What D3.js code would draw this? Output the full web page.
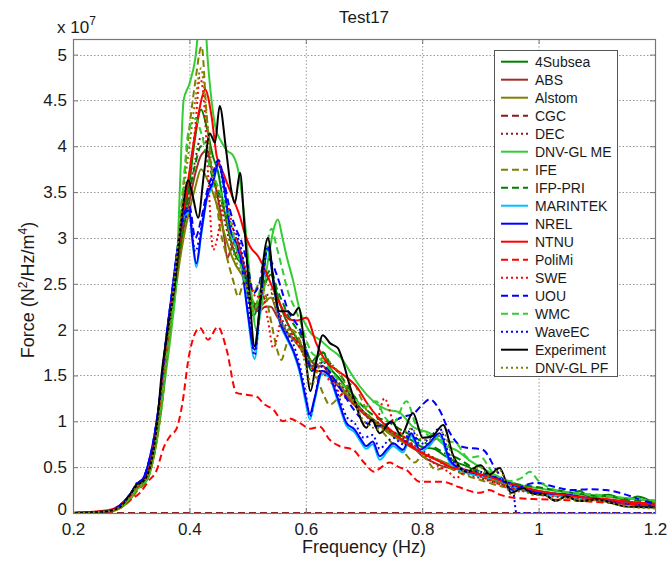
<!DOCTYPE html>
<html>
<head>
<meta charset="utf-8">
<script src="https://cdn.jsdelivr.net/npm/d3@7"></script>
<style>
  body { margin: 0; background: #fff; }
  svg { display: block; font-family: "Liberation Sans", Arial, sans-serif; }
</style>
</head>
<body>
<div id="chart"></div>
<script>
// Plot area (pixels)
const W = 670, H = 562;
const plot = { left: 73, right: 655, top: 39, bottom: 513 };

// Force values are in units of 1e7 N^2/Hz/m^4
const xTicks = [0.2, 0.4, 0.6, 0.8, 1.0, 1.2];
const yTicks = [0, 0.5, 1, 1.5, 2, 2.5, 3, 3.5, 4, 4.5, 5];

const names = ["4Subsea", "ABS", "Alstom", "CGC", "DEC", "DNV-GL ME", "IFE", "IFP-PRI", "MARINTEK",
    "NREL", "NTNU", "PoliMi", "SWE", "UOU", "WMC", "WaveEC", "Experiment", "DNV-GL PF"];

// [frequency (Hz), force (x1e7)]
const s4Subsea = [[0.2,0],[0.26,0.02],[0.28,0.07],[0.30,0.2],[0.31,0.3],[0.32,0.33],[0.33,0.42],[0.34,0.7],[0.35,1.1],[0.36,1.7],[0.37,2.2],[0.38,2.7],[0.39,3.2],[0.40,3.6],[0.41,4.1],[0.42,4.4],[0.43,4.2],[0.44,3.9],[0.45,3.7],[0.46,3.3],[0.47,3.0],[0.48,2.8],[0.49,2.7],[0.50,2.4],[0.51,2.15],[0.52,2.3],[0.53,2.5],[0.54,2.6],[0.55,2.4],[0.56,2.2],[0.57,2.05],[0.58,1.95],[0.59,1.85],[0.60,1.7],[0.61,1.55],[0.62,1.7],[0.63,1.75],[0.64,1.6],[0.66,1.45],[0.68,1.25],[0.70,1.1],[0.72,1.0],[0.74,0.92],[0.76,0.85],[0.78,0.8],[0.80,0.72],[0.82,0.7],[0.84,0.62],[0.86,0.55],[0.88,0.5],[0.90,0.42],[0.92,0.38],[0.94,0.33],[0.96,0.3],[0.98,0.26],[1.0,0.24],[1.02,0.22],[1.05,0.2],[1.07,0.24],[1.09,0.17],[1.12,0.2],[1.15,0.14],[1.17,0.18],[1.2,0.1]];
const sABS = [[0.2,0],[0.26,0.02],[0.28,0.06],[0.30,0.18],[0.31,0.28],[0.32,0.32],[0.33,0.42],[0.34,0.7],[0.35,1.1],[0.36,1.65],[0.37,2.15],[0.38,2.65],[0.39,3.1],[0.40,3.4],[0.41,3.7],[0.42,3.9],[0.43,3.95],[0.44,3.7],[0.45,3.4],[0.46,3.0],[0.465,2.78],[0.47,2.85],[0.48,3.0],[0.49,2.8],[0.50,2.5],[0.51,2.25],[0.52,2.2],[0.53,2.25],[0.54,2.25],[0.55,2.15],[0.56,2.05],[0.57,1.95],[0.58,1.9],[0.59,1.85],[0.60,1.75],[0.61,1.65],[0.62,1.6],[0.63,1.6],[0.64,1.5],[0.66,1.35],[0.68,1.2],[0.70,1.08],[0.72,0.98],[0.74,0.9],[0.76,0.82],[0.78,0.75],[0.80,0.62],[0.82,0.55],[0.84,0.5],[0.86,0.48],[0.88,0.44],[0.90,0.4],[0.93,0.34],[0.96,0.28],[1.0,0.22],[1.04,0.19],[1.08,0.16],[1.12,0.14],[1.16,0.11],[1.2,0.09]];
const sAlstom = [[0.2,0],[0.26,0.01],[0.28,0.05],[0.30,0.16],[0.31,0.26],[0.32,0.31],[0.33,0.4],[0.34,0.65],[0.35,1.05],[0.36,1.6],[0.37,2.1],[0.38,2.6],[0.39,3.0],[0.40,3.3],[0.41,3.55],[0.42,3.75],[0.43,3.65],[0.44,3.5],[0.45,3.3],[0.46,3.05],[0.47,2.85],[0.48,2.7],[0.49,2.6],[0.50,2.45],[0.51,2.3],[0.52,2.25],[0.53,2.3],[0.54,2.35],[0.55,2.2],[0.56,2.05],[0.57,1.95],[0.58,1.88],[0.59,1.8],[0.60,1.7],[0.61,1.6],[0.62,1.55],[0.63,1.55],[0.64,1.5],[0.66,1.38],[0.68,1.22],[0.70,1.1],[0.72,1.0],[0.74,0.88],[0.76,0.8],[0.78,0.72],[0.80,0.65],[0.82,0.6],[0.84,0.55],[0.86,0.5],[0.88,0.45],[0.90,0.4],[0.93,0.34],[0.96,0.29],[1.0,0.24],[1.04,0.2],[1.08,0.16],[1.12,0.13],[1.16,0.1],[1.2,0.08]];
const sCGC = [[0.2,0],[0.6,0],[1.2,0]];
const sDEC = [[0.2,0],[0.26,0.02],[0.28,0.06],[0.30,0.18],[0.31,0.27],[0.32,0.32],[0.33,0.43],[0.34,0.72],[0.35,1.15],[0.36,1.7],[0.37,2.2],[0.38,2.7],[0.39,3.15],[0.40,3.5],[0.41,3.85],[0.42,4.1],[0.43,4.0],[0.44,3.7],[0.45,3.45],[0.46,3.2],[0.47,2.95],[0.48,2.85],[0.49,2.75],[0.50,2.5],[0.51,2.3],[0.52,2.25],[0.53,2.35],[0.54,2.4],[0.55,2.2],[0.56,2.1],[0.57,2.0],[0.58,1.9],[0.59,1.82],[0.60,1.7],[0.61,1.6],[0.62,1.62],[0.63,1.6],[0.64,1.52],[0.66,1.4],[0.68,1.25],[0.70,1.1],[0.72,1.0],[0.74,0.92],[0.76,0.85],[0.78,0.76],[0.80,0.68],[0.82,0.6],[0.84,0.52],[0.86,0.46],[0.88,0.42],[0.90,0.38],[0.93,0.32],[0.96,0.27],[1.0,0.22],[1.04,0.18],[1.08,0.15],[1.12,0.13],[1.16,0.1],[1.2,0.08]];
const sDNVGLME = [[0.2,0],[0.26,0.02],[0.28,0.06],[0.30,0.17],[0.31,0.26],[0.32,0.3],[0.33,0.4],[0.34,0.65],[0.35,1.05],[0.36,1.55],[0.37,2.05],[0.378,2.6],[0.384,3.6],[0.39,4.5],[0.40,4.68],[0.41,4.95],[0.418,5.4],[0.425,5.5],[0.432,4.9],[0.438,4.5],[0.445,4.2],[0.455,4.05],[0.465,3.95],[0.475,3.9],[0.485,3.7],[0.495,3.2],[0.505,2.5],[0.515,2.0],[0.525,2.3],[0.535,2.75],[0.545,3.1],[0.552,3.2],[0.56,3.0],[0.567,2.8],[0.578,2.54],[0.59,2.2],[0.60,2.05],[0.61,1.95],[0.624,1.89],[0.64,1.8],[0.661,1.69],[0.68,1.5],[0.693,1.38],[0.716,1.22],[0.738,1.13],[0.76,1.1],[0.784,0.94],[0.813,0.87],[0.841,0.73],[0.86,0.68],[0.88,0.58],[0.90,0.5],[0.93,0.4],[0.96,0.32],[0.99,0.28],[1.02,0.25],[1.05,0.22],[1.08,0.2],[1.11,0.18],[1.14,0.17],[1.17,0.15],[1.2,0.12]];
const sIFE = [[0.2,0],[0.26,0.01],[0.28,0.05],[0.30,0.15],[0.31,0.24],[0.32,0.3],[0.33,0.4],[0.34,0.65],[0.35,1.05],[0.36,1.6],[0.37,2.2],[0.38,2.9],[0.39,3.6],[0.40,4.2],[0.41,4.7],[0.421,5.09],[0.429,4.4],[0.438,3.74],[0.444,3.52],[0.452,3.13],[0.464,2.8],[0.475,2.54],[0.484,2.36],[0.492,2.5],[0.50,2.6],[0.51,2.4],[0.52,2.5],[0.53,2.4],[0.54,2.1],[0.55,1.8],[0.558,1.67],[0.565,1.8],[0.575,2.0],[0.585,1.95],[0.595,1.8],[0.605,1.7],[0.615,1.55],[0.63,1.3],[0.641,1.18],[0.655,1.25],[0.67,1.35],[0.681,1.42],[0.695,1.25],[0.71,1.05],[0.73,0.9],[0.75,0.75],[0.77,0.65],[0.787,0.55],[0.80,0.62],[0.824,0.47],[0.84,0.5],[0.86,0.45],[0.88,0.4],[0.90,0.36],[0.93,0.3],[0.96,0.26],[1.0,0.22],[1.04,0.18],[1.08,0.15],[1.12,0.12],[1.16,0.1],[1.2,0.08]];
const sIFPPRI = [[0.2,0],[0.26,0.02],[0.28,0.07],[0.30,0.2],[0.31,0.3],[0.32,0.35],[0.33,0.45],[0.34,0.72],[0.35,1.12],[0.36,1.7],[0.37,2.2],[0.38,2.7],[0.39,3.15],[0.40,3.5],[0.41,3.8],[0.42,4.0],[0.43,3.9],[0.44,3.65],[0.45,3.5],[0.46,3.3],[0.47,3.1],[0.48,2.9],[0.49,2.75],[0.50,2.5],[0.51,2.25],[0.52,2.35],[0.53,2.55],[0.54,2.65],[0.55,2.45],[0.56,2.3],[0.57,2.15],[0.58,2.05],[0.59,1.95],[0.60,1.8],[0.61,1.65],[0.62,1.72],[0.63,1.75],[0.64,1.65],[0.66,1.5],[0.68,1.3],[0.70,1.15],[0.72,1.05],[0.74,1.0],[0.76,0.92],[0.78,0.85],[0.80,0.78],[0.82,0.72],[0.84,0.65],[0.86,0.6],[0.88,0.52],[0.90,0.45],[0.93,0.38],[0.96,0.32],[1.0,0.28],[1.04,0.24],[1.08,0.2],[1.12,0.18],[1.16,0.14],[1.2,0.12]];
const sMARINTEK = [[0.2,0],[0.26,0.02],[0.28,0.08],[0.30,0.22],[0.31,0.32],[0.32,0.36],[0.33,0.54],[0.34,0.84],[0.35,1.28],[0.36,1.88],[0.37,2.38],[0.38,2.88],[0.39,3.22],[0.40,3.28],[0.405,2.98],[0.412,2.68],[0.42,3.02],[0.43,3.42],[0.44,3.58],[0.45,3.8],[0.46,3.52],[0.47,3.08],[0.48,2.92],[0.49,2.68],[0.50,2.18],[0.512,1.68],[0.522,2.28],[0.535,2.88],[0.545,2.48],[0.555,2.08],[0.565,1.93],[0.578,1.76],[0.59,1.52],[0.60,1.2],[0.607,1.02],[0.615,1.22],[0.628,1.52],[0.64,1.48],[0.655,1.22],[0.67,0.95],[0.684,0.88],[0.695,0.77],[0.704,0.7],[0.715,0.75],[0.727,0.58],[0.74,0.67],[0.75,0.73],[0.767,0.66],[0.781,0.84],[0.796,0.66],[0.81,0.72],[0.83,0.84],[0.847,0.55],[0.86,0.48],[0.88,0.43],[0.90,0.4],[0.93,0.36],[0.96,0.28],[1.0,0.2],[1.05,0.18],[1.1,0.14],[1.15,0.1],[1.2,0.07]];
const sNREL = [[0.2,0],[0.26,0.02],[0.28,0.08],[0.30,0.22],[0.31,0.32],[0.32,0.37],[0.33,0.55],[0.34,0.85],[0.35,1.3],[0.36,1.9],[0.37,2.4],[0.38,2.9],[0.39,3.25],[0.40,3.3],[0.405,3.0],[0.412,2.72],[0.42,3.05],[0.43,3.45],[0.44,3.6],[0.45,3.82],[0.46,3.55],[0.47,3.1],[0.48,2.95],[0.49,2.7],[0.50,2.2],[0.512,1.78],[0.522,2.3],[0.535,2.9],[0.545,2.5],[0.555,2.1],[0.565,1.95],[0.578,1.78],[0.59,1.55],[0.60,1.25],[0.607,1.08],[0.615,1.25],[0.628,1.55],[0.64,1.5],[0.655,1.25],[0.67,0.98],[0.684,0.91],[0.695,0.8],[0.704,0.73],[0.715,0.78],[0.727,0.62],[0.74,0.7],[0.75,0.76],[0.767,0.69],[0.781,0.87],[0.796,0.69],[0.81,0.75],[0.83,0.87],[0.847,0.58],[0.86,0.5],[0.88,0.45],[0.90,0.42],[0.93,0.38],[0.96,0.3],[1.0,0.22],[1.05,0.2],[1.1,0.15],[1.15,0.1],[1.2,0.08]];
const sNTNU = [[0.2,0],[0.26,0.03],[0.28,0.08],[0.30,0.2],[0.31,0.28],[0.32,0.33],[0.33,0.47],[0.34,0.8],[0.35,1.25],[0.36,1.85],[0.37,2.35],[0.38,2.85],[0.39,3.3],[0.398,3.63],[0.407,4.03],[0.417,4.4],[0.427,4.62],[0.438,4.33],[0.447,3.89],[0.458,3.71],[0.467,3.56],[0.477,3.4],[0.487,3.23],[0.495,3.05],[0.504,2.91],[0.518,2.8],[0.53,2.65],[0.544,2.44],[0.558,2.25],[0.572,2.11],[0.585,2.1],[0.601,2.13],[0.618,1.85],[0.635,1.65],[0.653,1.56],[0.67,1.48],[0.687,1.38],[0.705,1.2],[0.727,1.02],[0.75,0.88],[0.773,0.76],[0.801,0.65],[0.83,0.56],[0.85,0.5],[0.876,0.47],[0.90,0.42],[0.922,0.38],[0.95,0.32],[0.98,0.27],[1.0,0.24],[1.04,0.2],[1.08,0.17],[1.12,0.15],[1.16,0.12],[1.2,0.1]];
const sPoliMi = [[0.2,0],[0.26,0.01],[0.281,0.07],[0.30,0.15],[0.315,0.22],[0.33,0.35],[0.344,0.47],[0.355,0.7],[0.367,0.84],[0.378,0.92],[0.387,1.16],[0.40,1.74],[0.418,2.02],[0.432,1.89],[0.449,2.03],[0.464,1.78],[0.481,1.31],[0.498,1.29],[0.515,1.27],[0.53,1.18],[0.544,1.13],[0.561,1.0],[0.572,1.03],[0.59,0.98],[0.607,0.92],[0.624,0.94],[0.641,0.8],[0.658,0.73],[0.681,0.69],[0.70,0.55],[0.718,0.45],[0.73,0.5],[0.744,0.55],[0.76,0.5],[0.773,0.47],[0.796,0.34],[0.815,0.34],[0.836,0.34],[0.864,0.28],[0.899,0.22],[0.915,0.25],[0.933,0.2],[0.967,0.16],[1.0,0.15],[1.05,0.14],[1.1,0.12],[1.15,0.1],[1.2,0.08]];
const sSWE = [[0.2,0],[0.26,0.02],[0.28,0.07],[0.30,0.2],[0.31,0.3],[0.32,0.34],[0.33,0.45],[0.34,0.75],[0.35,1.2],[0.36,1.75],[0.37,2.25],[0.38,2.8],[0.39,3.3],[0.40,3.7],[0.41,4.2],[0.418,4.75],[0.425,4.5],[0.432,3.7],[0.441,2.87],[0.448,3.0],[0.455,3.25],[0.465,3.35],[0.475,3.1],[0.485,2.9],[0.495,2.7],[0.505,2.5],[0.515,2.35],[0.525,2.4],[0.535,2.1],[0.544,1.8],[0.552,1.95],[0.56,2.2],[0.57,2.05],[0.58,1.9],[0.59,1.8],[0.60,1.68],[0.61,1.58],[0.62,1.55],[0.63,1.52],[0.64,1.45],[0.66,1.3],[0.68,1.2],[0.70,1.08],[0.72,0.98],[0.735,1.25],[0.75,1.0],[0.77,0.82],[0.79,0.72],[0.81,0.6],[0.83,0.5],[0.845,0.45],[0.858,0.38],[0.875,0.45],[0.90,0.4],[0.93,0.32],[0.96,0.26],[1.0,0.2],[1.04,0.17],[1.08,0.15],[1.12,0.12],[1.16,0.1],[1.2,0.08]];
const sUOU = [[0.2,0],[0.26,0.02],[0.28,0.08],[0.30,0.22],[0.31,0.32],[0.32,0.37],[0.33,0.55],[0.34,0.85],[0.35,1.3],[0.36,1.9],[0.37,2.4],[0.38,2.9],[0.39,3.25],[0.40,3.35],[0.41,3.0],[0.42,3.2],[0.43,3.5],[0.44,3.7],[0.45,3.85],[0.46,3.6],[0.47,3.3],[0.48,3.1],[0.49,2.95],[0.50,2.7],[0.51,2.4],[0.52,2.5],[0.53,2.8],[0.54,2.75],[0.55,2.6],[0.56,2.4],[0.57,2.2],[0.58,2.1],[0.59,2.0],[0.60,1.8],[0.61,1.55],[0.62,1.6],[0.63,1.65],[0.64,1.55],[0.66,1.35],[0.68,1.15],[0.70,1.0],[0.72,0.95],[0.744,0.98],[0.767,1.05],[0.784,1.08],[0.80,1.18],[0.813,1.24],[0.83,1.12],[0.847,0.88],[0.87,0.72],[0.904,0.69],[0.927,0.47],[0.956,0.25],[0.975,0.3],[0.996,0.33],[1.03,0.28],[1.059,0.25],[1.09,0.26],[1.116,0.25],[1.15,0.2],[1.173,0.15],[1.2,0.1]];
const sWMC = [[0.2,0],[0.26,0.02],[0.28,0.06],[0.30,0.18],[0.31,0.27],[0.32,0.32],[0.33,0.42],[0.34,0.7],[0.35,1.1],[0.36,1.65],[0.37,2.2],[0.38,2.9],[0.39,3.6],[0.398,4.15],[0.41,4.3],[0.42,4.15],[0.43,3.9],[0.44,3.7],[0.45,3.55],[0.46,3.4],[0.47,3.2],[0.48,2.9],[0.49,2.65],[0.50,2.4],[0.51,2.2],[0.52,2.4],[0.53,2.8],[0.541,3.1],[0.55,2.9],[0.56,2.65],[0.57,2.4],[0.58,2.25],[0.59,2.1],[0.60,1.9],[0.61,1.75],[0.62,1.7],[0.63,1.65],[0.64,1.58],[0.66,1.42],[0.68,1.3],[0.70,1.15],[0.721,1.22],[0.735,1.05],[0.75,0.98],[0.773,1.22],[0.79,0.95],[0.81,0.85],[0.83,0.8],[0.858,0.76],[0.88,0.6],[0.899,0.62],[0.92,0.45],[0.95,0.35],[0.97,0.38],[0.985,0.45],[1.0,0.35],[1.03,0.25],[1.06,0.22],[1.1,0.2],[1.15,0.16],[1.2,0.14]];
const sWaveEC = [[0.2,0],[0.26,0.02],[0.28,0.08],[0.30,0.22],[0.31,0.33],[0.32,0.37],[0.33,0.55],[0.34,0.85],[0.35,1.3],[0.36,1.9],[0.37,2.4],[0.38,2.9],[0.39,3.2],[0.40,3.25],[0.41,2.85],[0.42,3.1],[0.43,3.45],[0.44,3.65],[0.45,3.8],[0.46,3.5],[0.47,3.15],[0.48,3.05],[0.49,2.85],[0.50,2.4],[0.512,1.72],[0.522,2.3],[0.535,2.9],[0.545,2.5],[0.555,2.15],[0.565,2.0],[0.578,1.85],[0.59,1.6],[0.60,1.3],[0.607,1.05],[0.615,1.25],[0.628,1.6],[0.64,1.55],[0.655,1.3],[0.67,1.05],[0.684,0.98],[0.70,0.82],[0.715,0.85],[0.727,0.7],[0.74,0.78],[0.75,0.82],[0.767,0.75],[0.781,0.92],[0.796,0.75],[0.81,0.8],[0.83,0.92],[0.847,0.62],[0.86,0.52],[0.88,0.46],[0.90,0.45],[0.93,0.38],[0.955,0.3],[0.962,0.0],[1.2,0.0]];
const sExperiment = [[0.20,0.00],[0.26,0.02],[0.28,0.06],[0.30,0.22],[0.31,0.31],[0.32,0.34],[0.33,0.45],[0.34,0.75],[0.345,1.0],[0.352,1.5],[0.363,2.0],[0.375,2.5],[0.388,3.3],[0.398,3.63],[0.406,3.45],[0.415,3.22],[0.425,3.7],[0.435,4.14],[0.444,4.04],[0.452,4.44],[0.463,3.96],[0.472,3.52],[0.478,3.38],[0.487,3.71],[0.495,3.09],[0.503,2.4],[0.512,1.82],[0.52,2.2],[0.528,2.8],[0.535,3.0],[0.545,2.5],[0.555,2.2],[0.568,2.2],[0.578,2.16],[0.588,2.24],[0.598,1.8],[0.608,1.33],[0.618,1.65],[0.629,1.94],[0.642,1.85],[0.655,1.80],[0.661,1.71],[0.675,1.4],[0.687,1.16],[0.704,0.93],[0.713,1.02],[0.727,0.87],[0.747,1.0],[0.764,0.85],[0.784,1.09],[0.801,0.82],[0.818,0.84],[0.836,0.96],[0.853,0.63],[0.876,0.45],[0.900,0.52],[0.916,0.42],[0.933,0.49],[0.953,0.22],[0.973,0.27],[0.99,0.21],[1.01,0.2],[1.03,0.13],[1.047,0.18],[1.07,0.13],[1.10,0.15],[1.13,0.1],[1.15,0.07],[1.2,0.06]];
const sDNVGLPF = [[0.2,0],[0.26,0.02],[0.28,0.06],[0.30,0.19],[0.31,0.29],[0.32,0.33],[0.33,0.44],[0.34,0.72],[0.35,1.15],[0.36,1.7],[0.37,2.25],[0.38,2.9],[0.39,3.5],[0.40,4.0],[0.41,4.5],[0.42,4.85],[0.43,4.3],[0.44,3.7],[0.45,3.5],[0.46,3.3],[0.47,3.0],[0.48,2.75],[0.49,2.6],[0.50,2.45],[0.51,2.2],[0.52,2.35],[0.53,2.5],[0.54,2.45],[0.55,2.2],[0.56,2.05],[0.57,2.0],[0.58,1.95],[0.59,1.85],[0.60,1.6],[0.61,1.4],[0.62,1.55],[0.63,1.7],[0.64,1.65],[0.66,1.5],[0.68,1.25],[0.70,1.0],[0.72,0.92],[0.74,0.9],[0.76,0.85],[0.78,0.92],[0.80,0.8],[0.82,0.8],[0.836,0.88],[0.853,0.6],[0.876,0.45],[0.90,0.5],[0.916,0.4],[0.933,0.47],[0.953,0.2],[0.973,0.25],[0.99,0.2],[1.01,0.2],[1.03,0.13],[1.047,0.17],[1.07,0.13],[1.10,0.14],[1.13,0.1],[1.15,0.07],[1.2,0.05]];

const seriesData = [s4Subsea, sABS, sAlstom, sCGC, sDEC, sDNVGLME, sIFE, sIFPPRI, sMARINTEK,
    sNREL, sNTNU, sPoliMi, sSWE, sUOU, sWMC, sWaveEC, sExperiment, sDNVGLPF];
const colors = ["#008000", "#a52a2a", "#808000", "#8b1a1a", "#8b1a1a", "#33cc33", "#808000", "#008000", "#00bfff",
    "#0000ff", "#ff0000", "#ff0000", "#ff0000", "#0000ff", "#33cc33", "#0000ff", "#000000", "#808000"];
const styles = ["solid", "solid", "solid", "dash", "dot", "solid", "dash", "dash", "solid",
    "solid", "solid", "dash", "dot", "dash", "dash", "dot", "solid", "dot"];

const dashOf = { solid: null, dash: "7,4", dot: "2,3" };

const svg = d3.select("#chart").append("svg")
    .attr("width", W).attr("height", H);

const x = d3.scaleLinear().domain([0.2, 1.2]).range([plot.left, plot.right]);
const y = d3.scaleLinear().domain([0, 5.17]).range([plot.bottom, plot.top]);

svg.append("defs").append("clipPath").attr("id", "clip")
    .append("rect")
    .attr("x", plot.left).attr("y", plot.top)
    .attr("width", plot.right - plot.left).attr("height", plot.bottom - plot.top);

// grid
const grid = svg.append("g").attr("stroke", "#9a9a9a").attr("stroke-width", 1).attr("stroke-dasharray", "1.5,2");
grid.selectAll(".gx").data(xTicks.slice(1, -1)).enter().append("line")
    .attr("x1", d => x(d) + 0.5).attr("x2", d => x(d) + 0.5)
    .attr("y1", plot.top).attr("y2", plot.bottom);
grid.selectAll(".gy").data(yTicks.slice(1)).enter().append("line")
    .attr("y1", d => Math.round(y(d)) + 0.5).attr("y2", d => Math.round(y(d)) + 0.5)
    .attr("x1", plot.left).attr("x2", plot.right);

// series
const line = d3.line()
    .x(d => x(d[0]))
    .y(d => y(d[1]))
    .curve(d3.curveMonotoneX);

const lines = svg.append("g").attr("clip-path", "url(#clip)");
seriesData.forEach((s, i) => {
    lines.append("path")
        .datum(s)
        .attr("fill", "none")
        .attr("stroke", colors[i])
        .attr("stroke-width", 2)
        .attr("stroke-dasharray", dashOf[styles[i]])
        .attr("d", line);
});

// axes box
svg.append("rect")
    .attr("x", plot.left + 0.5).attr("y", plot.top + 0.5)
    .attr("width", plot.right - plot.left).attr("height", plot.bottom - plot.top)
    .attr("fill", "none").attr("stroke", "#777").attr("stroke-width", 1.2);

const xAxis = d3.axisBottom(x).tickValues(xTicks).tickSize(-5).tickPadding(10)
    .tickFormat(d => d3.format("~g")(d));
const yAxis = d3.axisLeft(y).tickValues(yTicks).tickSize(-5).tickPadding(6)
    .tickFormat(d => d3.format("~g")(d));

svg.append("g").attr("transform", `translate(0,${plot.bottom})`).call(xAxis)
    .call(g => g.select(".domain").remove())
    .call(g => g.selectAll("line").attr("stroke", "#777"))
    .call(g => g.selectAll("text").attr("font-size", 17).attr("fill", "#1a1a1a").attr("font-family", "Liberation Sans, Arial, sans-serif"));
svg.append("g").attr("transform", `translate(${plot.left},0)`).call(yAxis)
    .call(g => g.select(".domain").remove())
    .call(g => g.selectAll("line").attr("stroke", "#777"))
    .call(g => g.selectAll("text").attr("font-size", 17).attr("fill", "#1a1a1a").attr("font-family", "Liberation Sans, Arial, sans-serif"))
    .call(g => g.selectAll(".tick").filter(d => d === 0).select("text").attr("dy", "0.1em"));

// mirrored ticks on top and right
svg.append("g").attr("transform", `translate(0,${plot.top})`)
    .call(d3.axisTop(x).tickValues(xTicks).tickSize(-5).tickFormat(""))
    .call(g => g.select(".domain").remove())
    .call(g => g.selectAll("line").attr("stroke", "#777"));
svg.append("g").attr("transform", `translate(${plot.right},0)`)
    .call(d3.axisRight(y).tickValues(yTicks).tickSize(-5).tickFormat(""))
    .call(g => g.select(".domain").remove())
    .call(g => g.selectAll("line").attr("stroke", "#777"));

// titles
svg.append("text").attr("x", (plot.left + plot.right) / 2).attr("y", 23)
    .attr("text-anchor", "middle").attr("font-size", 17).attr("fill", "#1a1a1a").text("Test17");

const exp = svg.append("text").attr("x", 57).attr("y", 33).attr("font-size", 17).attr("fill", "#1a1a1a");
exp.append("tspan").text("x 10");
exp.append("tspan").attr("dy", -8).attr("font-size", 12).text("7");

svg.append("text").attr("x", (plot.left + plot.right) / 2).attr("y", 553)
    .attr("text-anchor", "middle").attr("font-size", 18).attr("fill", "#1a1a1a").text("Frequency (Hz)");

const yl = svg.append("text")
    .attr("transform", `translate(34,${(plot.top + plot.bottom) / 2 + 14}) rotate(-90)`)
    .attr("text-anchor", "middle").attr("font-size", 18).attr("fill", "#1a1a1a");
yl.append("tspan").text("Force (N");
yl.append("tspan").attr("dy", -7).attr("font-size", 12).text("2");
yl.append("tspan").attr("dy", 7).text("/Hz/m");
yl.append("tspan").attr("dy", -7).attr("font-size", 12).text("4");
yl.append("tspan").attr("dy", 7).text(")");

// legend
const leg = svg.append("g");
leg.append("rect")
    .attr("x", 494.5).attr("y", 50.5).attr("width", 123).attr("height", 326)
    .attr("fill", "#fff").attr("stroke", "#555").attr("stroke-width", 1);
names.forEach((n, i) => {
    const ly = 61.7 + i * 18;
    leg.append("line")
        .attr("x1", 501).attr("x2", 528).attr("y1", ly).attr("y2", ly)
        .attr("stroke", colors[i]).attr("stroke-width", 2)
        .attr("stroke-dasharray", dashOf[styles[i]]);
    leg.append("text").attr("x", 535).attr("y", ly + 5)
        .attr("font-size", 14).attr("fill", "#1a1a1a").text(n);
});
</script>
</body>
</html>
